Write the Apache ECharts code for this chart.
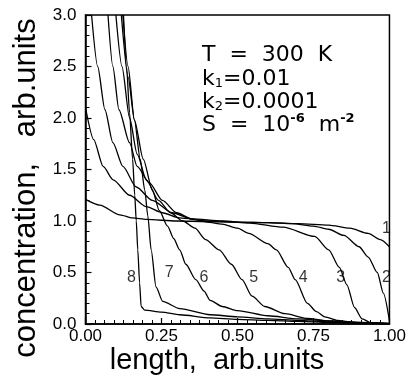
<!DOCTYPE html>
<html><head><meta charset="utf-8">
<script src="https://cdn.jsdelivr.net/npm/echarts@6/dist/echarts.min.js"></script>
<style>html,body{margin:0;padding:0;background:#fff}#c{width:409px;height:381px}</style>
</head><body><div id="c"></div>
<script>
// ---- data (x = length, y = concentration) ----
const curve1 = [[0,1.21],[0.047,1.155],[0.113,1.06],[0.155,1.03],[0.2,1.015],[0.3,1.0],[0.4,0.995],[0.5,0.99],[0.6,0.985],[0.7,0.975],[0.8,0.96],[0.87,0.93],[0.93,0.88],[0.97,0.82],[1.0,0.75]];
const curve2 = [[0,2.1],[0.027,1.79],[0.058,1.53],[0.091,1.40],[0.145,1.25],[0.2,1.14],[0.253,1.08],[0.31,1.03],[0.4,1.0],[0.5,0.99],[0.6,0.985],[0.68,0.975],[0.75,0.95],[0.8,0.92],[0.85,0.86],[0.9,0.75],[0.93,0.65],[0.96,0.5],[0.98,0.3],[1.0,0.03]];
const curve3 = [[0.02,3.0],[0.04,2.5],[0.064,2.08],[0.09,1.76],[0.123,1.53],[0.167,1.33],[0.22,1.2],[0.285,1.08],[0.35,1.02],[0.45,1.0],[0.54,0.98],[0.65,0.94],[0.754,0.85],[0.80,0.72],[0.835,0.55],[0.86,0.38],[0.885,0.16],[0.91,0.05],[0.94,0.01],[1.0,0.0]];
const curve4 = [[0.074,3.0],[0.09,2.5],[0.11,2.08],[0.145,1.76],[0.17,1.53],[0.21,1.37],[0.253,1.2],[0.3,1.08],[0.35,1.02],[0.4,0.99],[0.45,0.97],[0.5,0.93],[0.537,0.88],[0.6,0.78],[0.628,0.72],[0.667,0.55],[0.69,0.43],[0.73,0.2],[0.76,0.12],[0.787,0.07],[0.83,0.035],[0.87,0.02],[0.95,0.005],[1.0,0.0]];
const curve5 = [[0.10,3.0],[0.12,2.5],[0.145,2.0],[0.17,1.65],[0.2,1.4],[0.24,1.2],[0.28,1.08],[0.32,1.0],[0.36,0.93],[0.395,0.82],[0.44,0.72],[0.48,0.58],[0.515,0.43],[0.548,0.27],[0.59,0.17],[0.656,0.1],[0.73,0.055],[0.8,0.03],[0.9,0.01],[1.0,0.003]];
const curve6 = [[0.118,3.0],[0.14,2.4],[0.161,1.98],[0.19,1.6],[0.22,1.3],[0.243,1.1],[0.27,0.95],[0.29,0.83],[0.31,0.72],[0.33,0.58],[0.363,0.43],[0.39,0.32],[0.41,0.23],[0.45,0.17],[0.5,0.13],[0.6,0.08],[0.7,0.05],[0.8,0.03],[0.9,0.015],[1.0,0.005]];
const curve7 = [[0.123,3.0],[0.14,2.5],[0.161,1.98],[0.18,1.6],[0.195,1.3],[0.205,1.05],[0.216,0.72],[0.232,0.36],[0.254,0.22],[0.31,0.15],[0.41,0.09],[0.5,0.07],[0.6,0.05],[0.7,0.035],[0.8,0.02],[0.9,0.01],[1.0,0.005]];
const curve8 = [[0.125,3.0],[0.135,2.5],[0.145,2.05],[0.155,1.6],[0.162,1.25],[0.167,1.0],[0.172,0.72],[0.178,0.4],[0.183,0.17],[0.195,0.135],[0.25,0.115],[0.31,0.09],[0.41,0.06],[0.5,0.045],[0.6,0.035],[0.7,0.025],[0.8,0.015],[0.9,0.008],[1.0,0.003]];
const curveLabels = [[0.99,0.93,'1'],[0.99,0.45,'2'],[0.84,0.45,'3'],[0.716,0.45,'4'],[0.553,0.45,'5'],[0.39,0.45,'6'],[0.275,0.5,'7'],[0.151,0.45,'8']];
const xTicks = [0, 0.25, 0.5, 0.75, 1.0];
const yTicks = [0, 0.5, 1.0, 1.5, 2.0, 2.5, 3.0];
const xTitle = 'length,  arb.units';
const yTitle = 'concentration,   arb.units';

const curves = [curve1,curve2,curve3,curve4,curve5,curve6,curve7,curve8];
const FONT = 'Liberation Sans, Arial, sans-serif';
const FONT2 = 'DejaVu Sans, sans-serif';
const chart = echarts.init(document.getElementById('c'), null, {renderer:'canvas'});
const series = curves.map((d,i)=>({
  type:'line', name:'curve'+(i+1), data:d, showSymbol:false, symbol:'none', smooth:0.25, smoothMonotone:'x',
  lineStyle:{color:'#000', width:1.3}, clip:true, silent:true
}));
series.push({
  type:'scatter', data:curveLabels.map(l=>({value:[l[0],l[1]], name:l[2]})),
  symbolSize:0, silent:true,
  label:{show:true, position:'inside', formatter:p=>p.name, color:'#000', fontSize:16, fontFamily:FONT}
});
const sub = {font:'13px '+FONT2, color:'#000', verticalAlign:'bottom', lineHeight:24};
const sup = {font:'bold 13px '+FONT2, color:'#000', verticalAlign:'top', lineHeight:24};
const big = {font:'22px '+FONT2, color:'#000', verticalAlign:'bottom', lineHeight:24};
chart.setOption({
  animation:false,
  backgroundColor:'#fff',
  grid:{left:85.5, right:17, top:15, bottom:57, show:true, borderColor:'#000', borderWidth:1.5, backgroundColor:'transparent'},
  xAxis:{type:'value', min:0, max:1, interval:0.25,
    axisLine:{onZero:false, lineStyle:{color:'#000', width:1.5}},
    axisTick:{inside:true, length:6, lineStyle:{color:'#000', width:1.2}},
    minorTick:{show:true, splitNumber:8, length:4, lineStyle:{color:'#000', width:1}},
    splitLine:{show:false},
    axisLabel:{color:'#000', fontSize:17, fontFamily:FONT, margin:4, formatter:v=>v.toFixed(2), showMaxLabel:true, showMinLabel:true}
  },
  yAxis:{type:'value', min:0, max:3, interval:0.5,
    axisLine:{onZero:false, lineStyle:{color:'#000', width:1.5}},
    axisTick:{inside:true, length:6, lineStyle:{color:'#000', width:1.2}},
    minorTick:{show:true, splitNumber:5, length:4, lineStyle:{color:'#000', width:1}},
    splitLine:{show:false},
    axisLabel:{color:'#000', fontSize:17, fontFamily:FONT, margin:9, formatter:v=>v.toFixed(1)}
  },
  series:series,
  graphic:[
    {type:'text', x:217, y:361, style:{text:xTitle, font:'29px '+FONT, fill:'#000', align:'center', verticalAlign:'middle'}},
    {type:'text', x:26, y:188, rotation:Math.PI/2, style:{text:yTitle, font:'31px '+FONT, fill:'#000', align:'center', verticalAlign:'middle'}},
    {type:'text', x:202, y:54, style:{text:'{a|T  =  300  K}', verticalAlign:'middle', rich:{a:big}}},
    {type:'text', x:202, y:78, style:{text:'{a|k}{s|1}{a|=0.01}', verticalAlign:'middle', rich:{a:big, s:sub}}},
    {type:'text', x:202, y:101, style:{text:'{a|k}{s|2}{a|=0.0001}', verticalAlign:'middle', rich:{a:big, s:sub}}},
    {type:'text', x:202, y:124, style:{text:'{a|S  =  10}{p|-6}{a|  m}{p|-2}', verticalAlign:'middle', rich:{a:big, p:sup}}}
  ]
});
</script></body></html>
